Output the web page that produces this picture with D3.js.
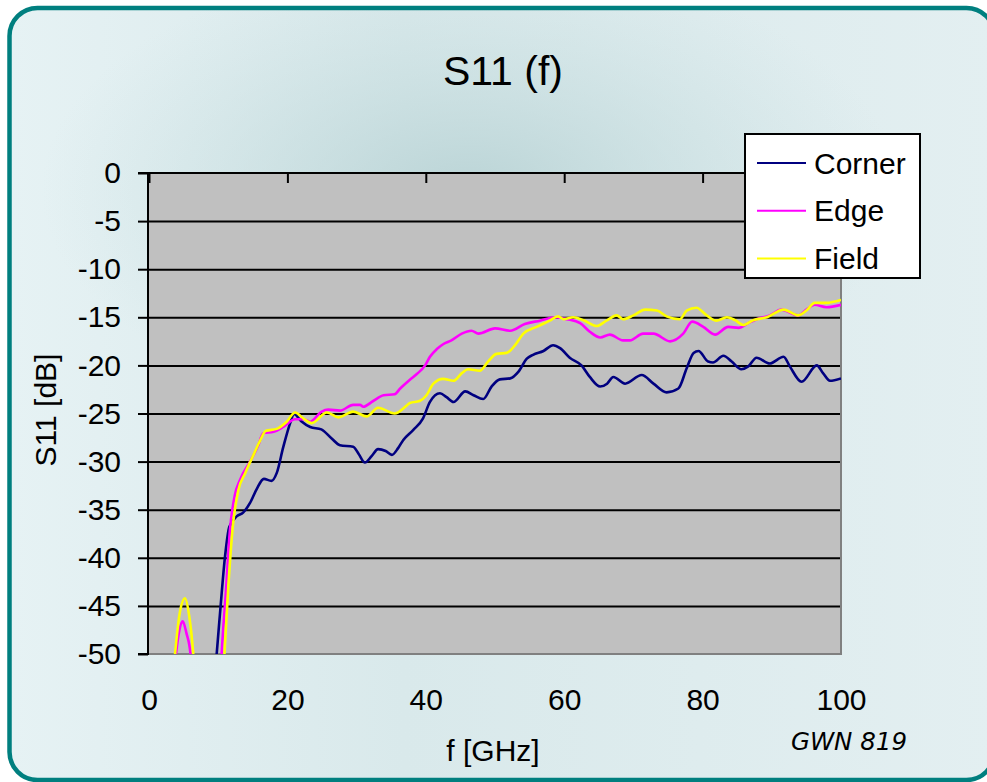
<!DOCTYPE html>
<html>
<head>
<meta charset="utf-8">
<script src="https://cdn.jsdelivr.net/npm/d3@7"></script>
<style>
  body { margin: 0; background: #ffffff; }
  svg text { font-family: "Liberation Sans", Arial, sans-serif; fill: #000; }
</style>
</head>
<body>
<div id="dynamicContent"></div>
<script>
// S11 (f), [f GHz, dB]
const corner = [[9.3,-55],[9.78,-50],[10.26,-45.8],[10.98,-39.9],[11.6,-36.8],[12.67,-35.7],[13.6,-35.3],[14.6,-34.3],[15.6,-32.8],[16.6,-31.8],[17.7,-32.0],[18.45,-31.2],[19.4,-28.5],[20.4,-26.0],[20.95,-25.05],[22,-25.8],[23.3,-26.4],[24.9,-26.65],[26.4,-27.6],[27.6,-28.3],[29.5,-28.45],[30.3,-29.2],[31.2,-30.1],[32.2,-29.4],[33.1,-28.7],[34.2,-28.9],[35.1,-29.3],[36.0,-28.6],[36.75,-27.75],[38.2,-26.7],[39.6,-25.5],[40.6,-23.8],[42.05,-22.9],[43.0,-23.3],[44.0,-23.8],[45.7,-22.7],[46.9,-23.1],[48.3,-23.5],[49.5,-22.2],[50.7,-21.45],[52.2,-21.35],[53.4,-20.65],[54.6,-19.3],[55.5,-18.9],[57.0,-18.5],[58.4,-17.9],[59.4,-18.2],[60.8,-19.2],[62.5,-20.0],[63.7,-21.2],[65.2,-22.2],[66.2,-21.9],[67.1,-21.2],[68.8,-21.9],[71.2,-21.0],[72.9,-21.9],[74.8,-22.8],[76.5,-22.4],[77.7,-20.3],[78.7,-18.7],[79.4,-18.5],[80.8,-19.6],[81.5,-19.7],[83.0,-19.0],[84.2,-19.6],[85.6,-20.4],[86.6,-20.1],[87.8,-19.2],[89.7,-19.8],[91.7,-19.1],[92.6,-20.1],[94.3,-21.7],[96.5,-20.0],[97.4,-20.8],[98.4,-21.6],[100,-21.35]];

const edge = [[3.5,-53],[3.9,-50],[4.4,-47.5],[4.87,-46.6],[5.4,-47.8],[6.0,-50],[6.3,-53],[7,-58],[10,-58],[10.5,-50],[11.1,-43.7],[11.7,-37.1],[12.4,-33.5],[13.15,-31.9],[14.6,-30.0],[15.8,-28.3],[16.5,-27.06],[18.0,-26.9],[19.4,-26.4],[21.1,-25.6],[22.3,-25.6],[23.3,-25.85],[24.95,-24.8],[25.9,-24.6],[27.6,-24.7],[29.5,-24.1],[30.5,-24.1],[30.95,-24.3],[32.4,-23.7],[33.9,-23.1],[35.5,-23.0],[36.3,-22.4],[37.7,-21.5],[38.7,-20.9],[39.9,-20.0],[40.6,-19.1],[41.6,-18.3],[42.5,-17.8],[43.7,-17.4],[45.2,-16.7],[46.6,-16.4],[47.6,-16.7],[50.0,-16.15],[52.2,-16.4],[54.3,-15.7],[56.5,-15.35],[58.7,-15.0],[60.4,-15.2],[62.3,-15.6],[63.7,-16.5],[65.2,-17.1],[66.6,-16.8],[68.5,-17.4],[69.5,-17.4],[71.4,-16.7],[72.9,-16.7],[75.3,-17.5],[77.2,-16.7],[78.5,-15.45],[80.1,-16.0],[81.8,-16.8],[83.7,-16.0],[85.2,-16.1],[86.6,-15.6],[87.8,-15.2],[89.7,-14.8],[91.4,-14.2],[93.8,-14.8],[95.0,-14.2],[96.2,-13.7],[97.9,-13.95],[100,-13.7]];

const field = [[3.4,-53],[3.76,-50],[4.5,-45.5],[5.2,-44.2],[5.8,-46],[6.4,-50],[6.7,-53],[7.5,-58],[10.4,-58],[10.9,-50],[11.46,-43.0],[12.1,-36.8],[12.9,-33.0],[13.9,-31.2],[15.1,-29.3],[16.0,-27.9],[16.9,-26.8],[18.45,-26.6],[19.9,-25.85],[21.1,-24.9],[22.3,-25.5],[23.5,-26.0],[25.7,-24.9],[27.4,-25.4],[29.5,-24.8],[31.45,-25.3],[33.1,-24.4],[35.5,-25.0],[37.2,-24.2],[37.7,-23.9],[39.1,-23.7],[40.1,-23.1],[41.1,-21.9],[42.5,-21.4],[44.0,-21.6],[45.2,-20.8],[46.1,-20.4],[47.8,-20.55],[49.0,-19.6],[50.2,-18.8],[51.7,-18.7],[52.9,-17.9],[54.1,-16.7],[56.0,-16.0],[57.9,-15.35],[59.1,-14.9],[59.9,-15.2],[61.3,-15.0],[62.8,-15.3],[64.7,-15.9],[66.1,-15.35],[67.6,-14.8],[68.5,-15.2],[70.0,-14.8],[71.7,-14.2],[73.4,-14.3],[74.8,-14.9],[76.7,-15.2],[77.7,-14.3],[79.1,-14.0],[80.6,-14.8],[82.0,-15.35],[83.5,-15.0],[84.7,-15.3],[85.9,-15.8],[87.3,-15.3],[89.3,-15.0],[91.7,-14.2],[93.8,-14.8],[95.0,-14.3],[96.2,-13.5],[97.9,-13.5],[100,-13.2]];

const seriesNames = ["Corner", "Edge", "Field"];
const seriesColors = ["#000080", "#ff00ff", "#ffff00"];
const xTicks = [0, 20, 40, 60, 80, 100];
const yTicks = [0, -5, -10, -15, -20, -25, -30, -35, -40, -45, -50];

function drawChart() {
	const W = 987, H = 782;
	const plot = { left: 148, top: 173, right: 841, bottom: 654 };

	const svg = d3.select("#dynamicContent").append("svg")
		.attr("width", W).attr("height", H);

	const defs = svg.append("defs");
	const lin = defs.append("linearGradient").attr("id", "bgLin")
		.attr("x1", 0).attr("y1", 0).attr("x2", 1).attr("y2", 0);
	lin.append("stop").attr("offset", "0%").attr("stop-color", "#e6f2f4");
	lin.append("stop").attr("offset", "40%").attr("stop-color", "#d9e9eb");
	lin.append("stop").attr("offset", "100%").attr("stop-color", "#e3eff1");
	const rad = defs.append("radialGradient").attr("id", "bgRad")
		.attr("gradientUnits", "userSpaceOnUse")
		.attr("cx", 470).attr("cy", 190).attr("r", 330)
		.attr("gradientTransform", "translate(470,190) scale(1.3,0.7) translate(-470,-190)");
	rad.append("stop").attr("offset", "0%").attr("stop-color", "#b9d3d5").attr("stop-opacity", 0.95);
	rad.append("stop").attr("offset", "100%").attr("stop-color", "#c8dfe1").attr("stop-opacity", 0);
	defs.append("clipPath").attr("id", "plotClip").append("rect")
		.attr("x", plot.left).attr("y", plot.top)
		.attr("width", plot.right - plot.left).attr("height", plot.bottom - plot.top);

	// frame
	svg.append("rect").attr("x", 9.5).attr("y", 8).attr("width", 985).attr("height", 772)
		.attr("rx", 28).attr("fill", "url(#bgLin)");
	svg.append("rect").attr("x", 9.5).attr("y", 8).attr("width", 985).attr("height", 772)
		.attr("rx", 28).attr("fill", "url(#bgRad)");
	svg.append("rect").attr("x", 9.5).attr("y", 8).attr("width", 985).attr("height", 772)
		.attr("rx", 28).attr("fill", "none").attr("stroke", "#007f7f").attr("stroke-width", 4.5);

	const x = d3.scaleLinear().domain([0, 100]).range([plot.left + 1, plot.right]);
	const y = d3.scaleLinear().domain([-50, 0]).range([plot.bottom, plot.top]);

	// plot area
	svg.append("rect").attr("x", plot.left).attr("y", plot.top)
		.attr("width", plot.right - plot.left).attr("height", plot.bottom - plot.top)
		.attr("fill", "#c0c0c0").attr("stroke", "#808080").attr("stroke-width", 2);

	// gridlines
	const grid = svg.append("g").attr("transform", `translate(${plot.left},0)`)
		.call(d3.axisLeft(y).tickValues(yTicks.filter(d => d !== 0 && d !== -50))
			.tickSize(-(plot.right - plot.left - 1)).tickFormat(""));
	grid.select(".domain").remove();
	grid.selectAll("line").attr("stroke", "#000").attr("stroke-width", 2);

	// y axis (plain hyphen for negatives, like the original)
	const yAx = svg.append("g").attr("transform", `translate(${plot.left},0)`)
		.call(d3.axisLeft(y).tickValues(yTicks).tickSize(10).tickPadding(17).tickFormat(d => String(d)));
	yAx.select(".domain").attr("stroke", "#000").attr("stroke-width", 2).attr("d", `M-10,${plot.top}H0V${plot.bottom}H-10`);
	yAx.selectAll("line").attr("stroke", "#000").attr("stroke-width", 2);
	yAx.selectAll("text").style("font-size", "30px").style("font-family", '"Liberation Sans", Arial, sans-serif');

	// x axis: ticks along top line, labels below plot
	const xTop = svg.append("g").attr("transform", `translate(0,${plot.top})`)
		.call(d3.axisTop(x).tickValues(xTicks).tickSize(-10).tickFormat(""));
	xTop.select(".domain").attr("stroke", "#000").attr("stroke-width", 2).attr("d", `M${plot.left},0H${plot.right}`);
	xTop.selectAll("line").attr("stroke", "#000").attr("stroke-width", 2);

	const xBot = svg.append("g").attr("transform", `translate(0,${plot.bottom})`)
		.call(d3.axisBottom(x).tickValues(xTicks).tickSize(0).tickPadding(35));
	xBot.select(".domain").remove();
	xBot.selectAll("text").style("font-size", "30px").style("font-family", '"Liberation Sans", Arial, sans-serif');

	// series
	const line = d3.line().x(d => x(d[0])).y(d => y(d[1])).curve(d3.curveMonotoneX);
	const lines = svg.append("g").attr("clip-path", "url(#plotClip)");
	[corner, edge, field].forEach(function(data, i) {
		lines.append("path").datum(data).attr("d", line)
			.attr("fill", "none").attr("stroke", seriesColors[i]).attr("stroke-width", 2.6)
			.attr("stroke-linejoin", "round");
	});

	// legend
	const lg = svg.append("g").attr("transform", "translate(745,134)");
	lg.append("rect").attr("width", 175).attr("height", 144)
		.attr("fill", "#fff").attr("stroke", "#000").attr("stroke-width", 2);
	seriesNames.forEach(function(name, i) {
		const yy = 29 + i * 47.7;
		lg.append("line").attr("x1", 12).attr("x2", 61).attr("y1", yy).attr("y2", yy)
			.attr("stroke", seriesColors[i]).attr("stroke-width", 2);
		lg.append("text").attr("x", 69).attr("y", yy).attr("dy", "0.35em")
			.style("font-size", "30px").text(name);
	});

	// titles
	svg.append("text").attr("x", 503).attr("y", 85).attr("text-anchor", "middle")
		.style("font-size", "41px").text("S11 (f)");
	svg.append("text").attr("transform", "translate(56,410) rotate(-90)")
		.attr("text-anchor", "middle").style("font-size", "30px").text("S11 [dB]");
	svg.append("text").attr("x", 493).attr("y", 761).attr("text-anchor", "middle")
		.style("font-size", "30px").text("f [GHz]");
	svg.append("text").attr("x", 907).attr("y", 750).attr("text-anchor", "end")
		.style("font-family", '"DejaVu Sans", Verdana, sans-serif').style("font-style", "italic")
		.style("font-size", "24.5px").text("GWN 819");
}

drawChart();
</script>
</body>
</html>
